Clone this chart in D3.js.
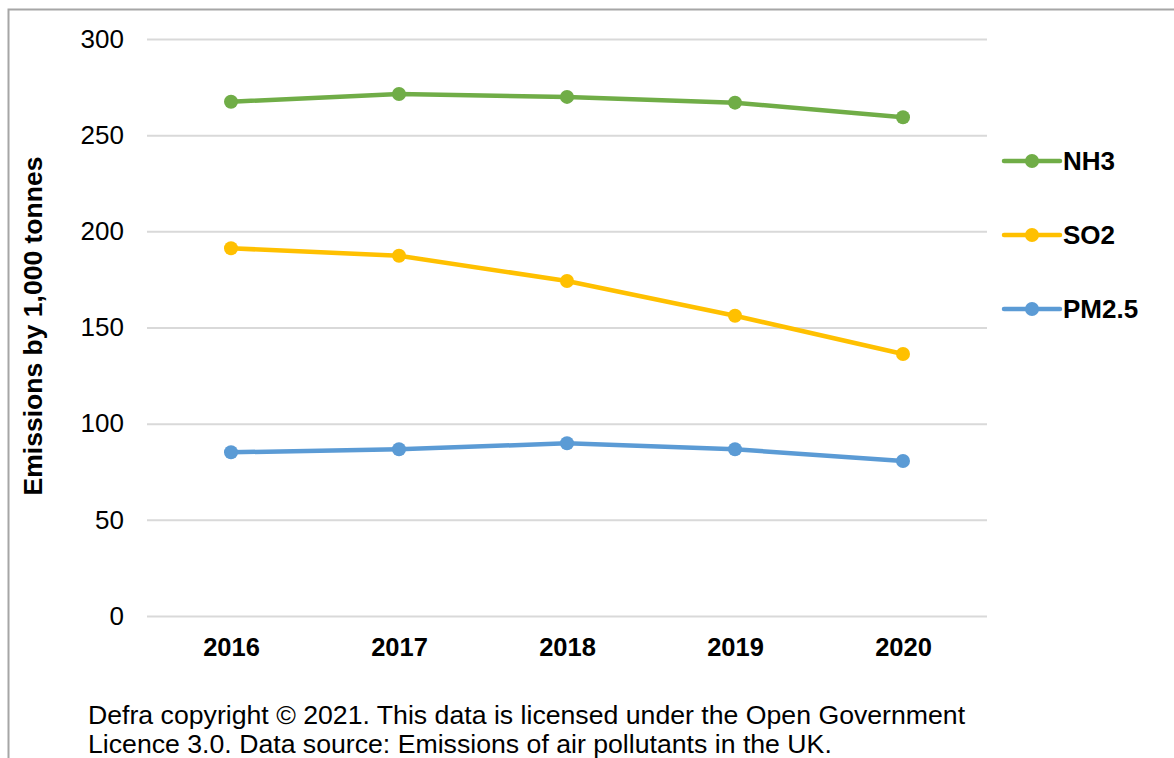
<!DOCTYPE html>
<html>
<head>
<meta charset="utf-8">
<script src="https://cdn.jsdelivr.net/npm/d3@7"></script>
<style>
  html, body { margin: 0; padding: 0; background: #ffffff; }
  svg { display: block; font-family: Arial, "Liberation Sans", sans-serif; }
</style>
</head>
<body>
<svg id="chart" width="1174" height="758"></svg>
<script>
// Emissions of air pollutants in the UK, thousand tonnes
const years = ["2016", "2017", "2018", "2019", "2020"];
const nh3 = [267.4, 271.4, 269.9, 266.9, 259.3];
const so2 = [191.2, 187.3, 174.2, 156.1, 136.2];
const pm25 = [85.1, 86.7, 89.8, 86.7, 80.6];
const seriesNames = ["NH3", "SO2", "PM2.5"];
const seriesColors = ["#70AD47", "#FFC000", "#5B9BD5"];
const yTicks = [0, 50, 100, 150, 200, 250, 300];
const footerLines = [
  "Defra copyright \u00A9 2021. This data is licensed under the Open Government",
  "Licence 3.0. Data source: Emissions of air pollutants in the UK."
];

const series = [nh3, so2, pm25].map((values, i) => ({
  name: seriesNames[i],
  color: seriesColors[i],
  values: values.map((v, j) => ({ year: years[j], value: v }))
}));

const svg = d3.select("#chart");

// outer chart frame
svg.append("path")
  .attr("d", "M8.5,760 V9.5 H1180")
  .attr("fill", "none")
  .attr("stroke", "#a6a6a6")
  .attr("stroke-width", 2);

const plot = { left: 147, right: 987, top: 39, bottom: 616 };

const x = d3.scalePoint()
  .domain(years)
  .range([plot.left, plot.right])
  .padding(0.5);

const y = d3.scaleLinear()
  .domain([0, 300])
  .range([plot.bottom, plot.top]);

// value axis with gridlines
const yAxis = svg.append("g")
  .attr("transform", `translate(${plot.left},0)`)
  .call(d3.axisLeft(y)
    .tickValues(yTicks)
    .tickSize(-(plot.right - plot.left))
    .tickPadding(23));
yAxis.select(".domain").remove();
yAxis.selectAll(".tick line")
  .attr("stroke", "#d9d9d9")
  .attr("stroke-width", 2);
yAxis.selectAll(".tick text")
  .attr("fill", "#000")
  .style("font-size", "26px");

// category axis
const xAxis = svg.append("g")
  .attr("transform", `translate(0,${plot.bottom})`)
  .call(d3.axisBottom(x).tickSize(0).tickPadding(22));
xAxis.select(".domain").remove();
xAxis.selectAll(".tick text")
  .attr("fill", "#000")
  .style("font-size", "25.5px")
  .style("font-weight", "bold");

// axis title
svg.append("text")
  .attr("transform", "translate(42,326) rotate(-90)")
  .attr("text-anchor", "middle")
  .style("font-size", "26.5px")
  .style("font-weight", "bold")
  .attr("fill", "#000")
  .text("Emissions by 1,000 tonnes");

// series lines and markers
const line = d3.line()
  .x(d => x(d.year))
  .y(d => y(d.value));

const groups = svg.append("g")
  .selectAll("g")
  .data(series)
  .join("g");

groups.append("path")
  .attr("d", d => line(d.values))
  .attr("fill", "none")
  .attr("stroke", d => d.color)
  .attr("stroke-width", 4.5)
  .attr("stroke-linejoin", "round")
  .attr("stroke-linecap", "round");

groups.selectAll("circle")
  .data(d => d.values.map(v => ({ ...v, color: d.color })))
  .join("circle")
  .attr("cx", d => x(d.year))
  .attr("cy", d => y(d.value))
  .attr("r", 7)
  .attr("fill", d => d.color);

// legend
const legendY = d3.scalePoint()
  .domain(seriesNames)
  .range([161, 309]);

const legend = svg.append("g")
  .selectAll("g")
  .data(series)
  .join("g")
  .attr("transform", d => `translate(1004,${legendY(d.name)})`);

legend.append("line")
  .attr("x1", 0).attr("x2", 56)
  .attr("stroke", d => d.color)
  .attr("stroke-width", 4.5)
  .attr("stroke-linecap", "round");

legend.append("circle")
  .attr("cx", 28)
  .attr("r", 7)
  .attr("fill", d => d.color);

legend.append("text")
  .attr("x", 59)
  .attr("dy", "0.36em")
  .style("font-size", "26px")
  .style("font-weight", "bold")
  .attr("fill", "#000")
  .text(d => d.name);

// source note
svg.append("g")
  .selectAll("text")
  .data(footerLines)
  .join("text")
  .attr("x", 88)
  .attr("y", (d, i) => 724 + i * 28.5)
  .style("font-size", "26.67px")
  .attr("fill", "#000")
  .text(d => d);
</script>
</body>
</html>
